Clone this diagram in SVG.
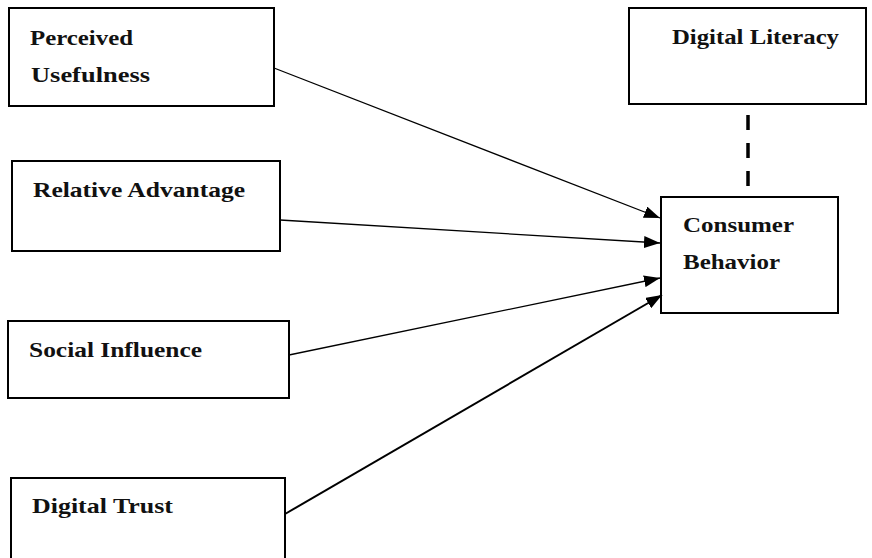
<svg xmlns="http://www.w3.org/2000/svg" width="872" height="558" viewBox="0 0 872 558">
<style>
.box{fill:#fff;stroke:#000;stroke-width:2}
.lbl{font-family:"Liberation Serif","Times New Roman",serif;font-weight:bold;font-size:21px;fill:#111}
.arr{stroke:#000;fill:none}
</style>
<defs>
<marker id="ah" markerUnits="userSpaceOnUse" viewBox="0 0 16 12" refX="16" refY="6" markerWidth="16" markerHeight="12" orient="auto">
<path d="M0,0 L16,6 L0,12 z" fill="#000"/>
</marker>
</defs>
<rect width="872" height="558" fill="#fff"/>
<g id="perceived-usefulness">
<rect class="box" x="9" y="8" width="265" height="98"/>
<text class="lbl" x="30" y="45" textLength="103" lengthAdjust="spacingAndGlyphs">Perceived</text>
<text class="lbl" x="31" y="82" textLength="119" lengthAdjust="spacingAndGlyphs">Usefulness</text>
</g>
<g id="relative-advantage">
<rect class="box" x="12" y="161" width="268" height="90"/>
<text class="lbl" x="33" y="197" textLength="212" lengthAdjust="spacingAndGlyphs">Relative Advantage</text>
</g>
<g id="social-influence">
<rect class="box" x="8" y="321" width="281" height="77"/>
<text class="lbl" x="29" y="357" textLength="173" lengthAdjust="spacingAndGlyphs">Social Influence</text>
</g>
<g id="digital-trust">
<rect class="box" x="11" y="478" width="274" height="84"/>
<text class="lbl" x="32" y="513" textLength="141" lengthAdjust="spacingAndGlyphs">Digital Trust</text>
</g>
<g id="digital-literacy">
<rect class="box" x="629" y="8" width="237" height="96"/>
<text class="lbl" x="672" y="44" textLength="167" lengthAdjust="spacingAndGlyphs">Digital Literacy</text>
</g>
<g id="consumer-behavior">
<rect class="box" x="661" y="197" width="177" height="116"/>
<text class="lbl" x="683" y="232" textLength="111" lengthAdjust="spacingAndGlyphs">Consumer</text>
<text class="lbl" x="683" y="269" textLength="97" lengthAdjust="spacingAndGlyphs">Behavior</text>
</g>
<g id="connectors">
<line class="arr" x1="274" y1="68" x2="660" y2="218" stroke-width="1.3" marker-end="url(#ah)"/>
<line class="arr" x1="280" y1="220" x2="660" y2="243" stroke-width="1.3" marker-end="url(#ah)"/>
<line class="arr" x1="289" y1="355" x2="660" y2="278" stroke-width="1.3" marker-end="url(#ah)"/>
<line class="arr" x1="285" y1="514" x2="662" y2="295" stroke-width="2" marker-end="url(#ah)"/>
<line class="arr" x1="748" y1="115" x2="748" y2="186" stroke-width="3.5" stroke-dasharray="15,13"/>
</g>
</svg>
